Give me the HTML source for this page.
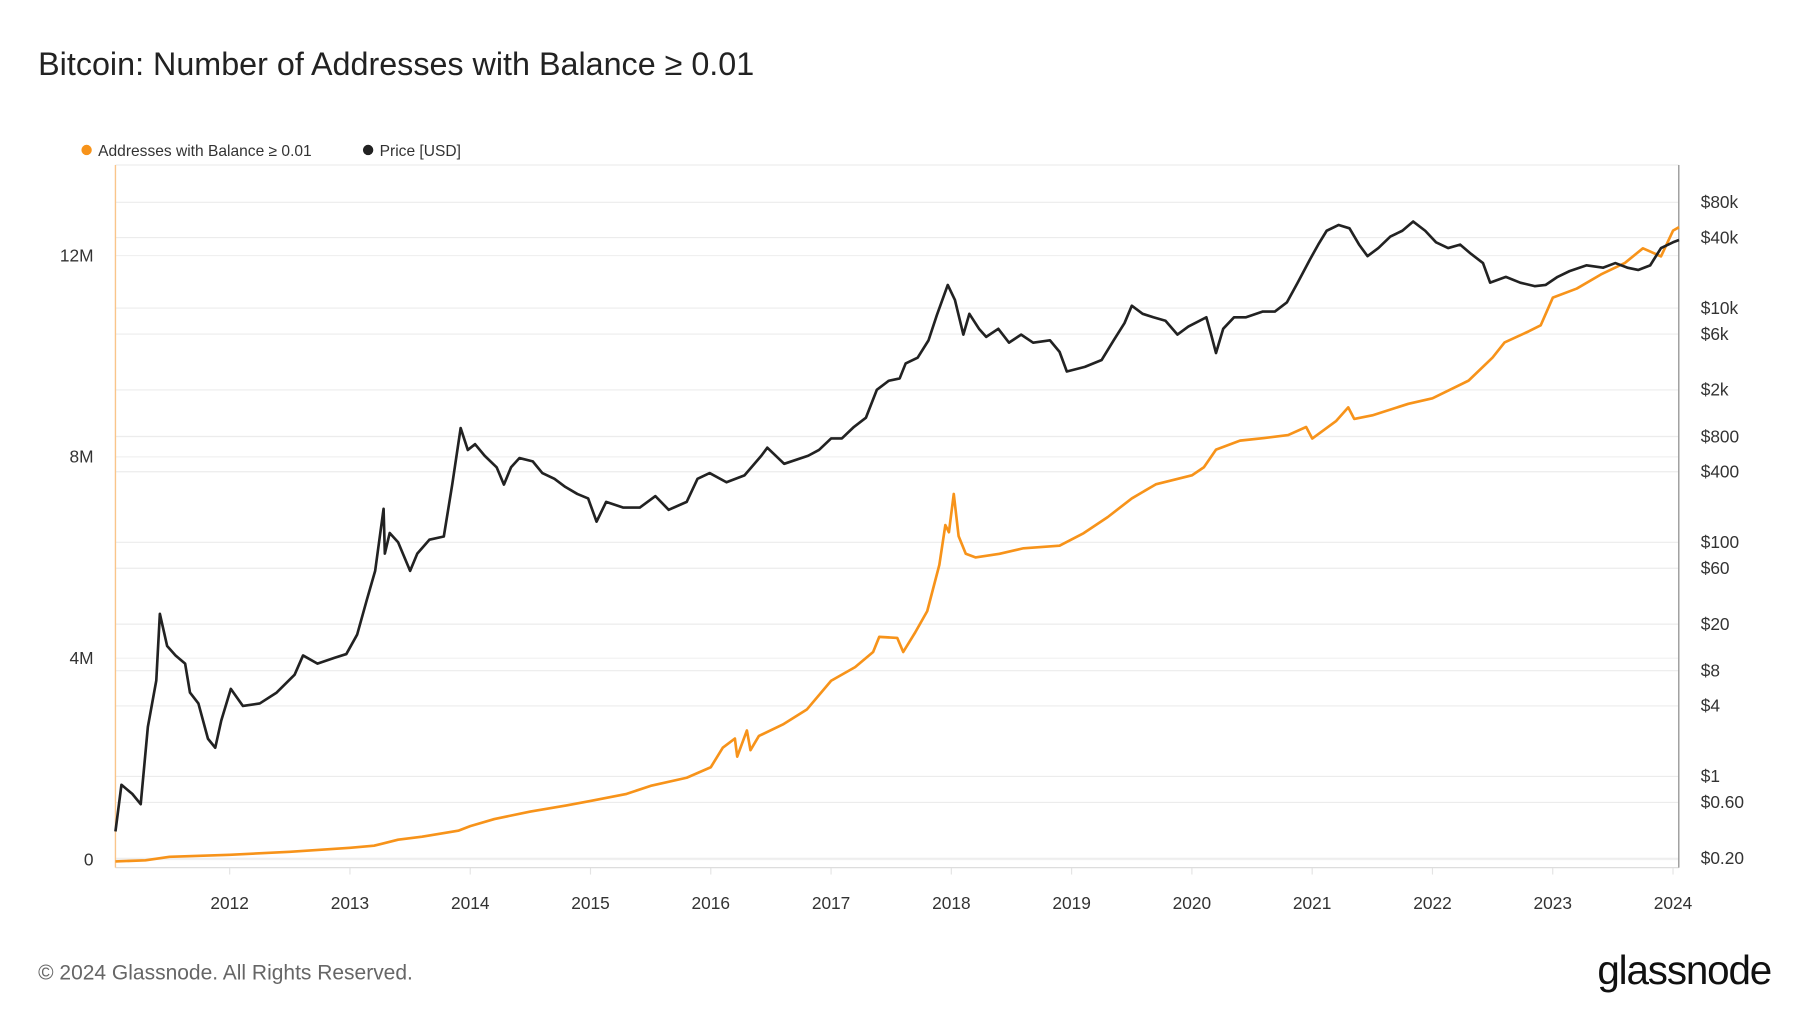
<!DOCTYPE html>
<html><head><meta charset="utf-8"><style>
html,body{margin:0;padding:0;background:#fff;}
svg{display:block;font-family:"Liberation Sans",sans-serif;}
</style></head><body>
<svg id="chart" width="1800" height="1013" viewBox="0 0 1560 878" xmlns="http://www.w3.org/2000/svg">
<rect width="1560" height="878" fill="#fff"/>
<text x="33" y="65" font-size="28" fill="#222">Bitcoin: Number of Addresses with Balance ≥ 0.01</text>
<g>
<g><circle cx="75" cy="130" r="4.5" fill="#f7931a"/><text x="85" y="135" font-size="13.5" fill="#333">Addresses with Balance ≥ 0.01</text></g>
<g><circle cx="319" cy="130" r="4.5" fill="#222"/><text x="329" y="135" font-size="13.5" fill="#333">Price [USD]</text></g>
</g>
<g id="grid"></g>
<g id="axes"></g>
<g id="series"></g>
<text x="33" y="849" font-size="18.2" fill="#666">© 2024 Glassnode. All Rights Reserved.</text>
<text x="1535" y="853" text-anchor="end" font-size="35" fill="#111" letter-spacing="-1">glassnode</text>
</svg>
<script>
const xTickYears=[2012,2013,2014,2015,2016,2017,2018,2019,2020,2021,2022,2023,2024];
const leftTicks=[0,4e6,8e6,12e6];
const leftTickLabels=["0","4M","8M","12M"];
const rightTicks=[80000,40000,10000,6000,2000,800,400,100,60,20,8,4,1,0.6,0.2];
const rightTickLabels=["$80k","$40k","$10k","$6k","$2k","$800","$400","$100","$60","$20","$8","$4","$1","$0.60","$0.20"];

const addrDates=[2011.05,2011.3,2011.5,2012.0,2012.5,2013.0,2013.2,2013.4,2013.6,2013.9,2014.0,2014.2,2014.5,2014.8,2015.0,2015.3,2015.5,2015.8,2016.0,2016.1,2016.2,2016.22,2016.3,2016.33,2016.4,2016.6,2016.8,2017.0,2017.2,2017.35,2017.4,2017.55,2017.6,2017.7,2017.8,2017.9,2017.95,2017.98,2018.02,2018.06,2018.12,2018.2,2018.4,2018.6,2018.9,2019.1,2019.3,2019.5,2019.7,2020.0,2020.1,2020.2,2020.4,2020.6,2020.8,2020.95,2021.0,2021.2,2021.3,2021.35,2021.5,2021.8,2022.0,2022.3,2022.5,2022.6,2022.8,2022.9,2023.0,2023.2,2023.4,2023.6,2023.75,2023.9,2024.0,2024.05];
const addrValues=[0.01e6,0.03e6,0.1e6,0.14e6,0.2e6,0.28e6,0.32e6,0.44e6,0.5e6,0.62e6,0.71e6,0.85e6,1.0e6,1.12e6,1.21e6,1.35e6,1.51e6,1.67e6,1.88e6,2.27e6,2.45e6,2.09e6,2.61e6,2.22e6,2.5e6,2.73e6,3.03e6,3.6e6,3.87e6,4.17e6,4.47e6,4.45e6,4.17e6,4.56e6,4.98e6,5.9e6,6.69e6,6.55e6,7.31e6,6.47e6,6.12e6,6.05e6,6.12e6,6.23e6,6.28e6,6.53e6,6.85e6,7.22e6,7.5e6,7.68e6,7.84e6,8.19e6,8.37e6,8.42e6,8.48e6,8.64e6,8.41e6,8.76e6,9.03e6,8.8e6,8.87e6,9.1e6,9.21e6,9.56e6,10.02e6,10.32e6,10.54e6,10.66e6,11.21e6,11.39e6,11.67e6,11.9e6,12.19e6,12.03e6,12.54e6,12.61e6];

const priceDates=[2011.05,2011.10,2011.19,2011.26,2011.32,2011.39,2011.42,2011.48,2011.55,2011.63,2011.67,2011.74,2011.82,2011.88,2011.93,2012.01,2012.11,2012.25,2012.39,2012.54,2012.61,2012.73,2012.87,2012.97,2013.06,2013.14,2013.21,2013.28,2013.29,2013.33,2013.40,2013.50,2013.56,2013.66,2013.78,2013.85,2013.92,2013.98,2014.04,2014.12,2014.22,2014.28,2014.34,2014.41,2014.52,2014.60,2014.70,2014.79,2014.89,2014.98,2015.05,2015.13,2015.27,2015.41,2015.54,2015.65,2015.80,2015.89,2015.99,2016.13,2016.28,2016.42,2016.47,2016.61,2016.81,2016.90,2017.00,2017.09,2017.19,2017.29,2017.38,2017.48,2017.57,2017.62,2017.72,2017.81,2017.88,2017.97,2018.03,2018.10,2018.15,2018.23,2018.29,2018.39,2018.48,2018.58,2018.68,2018.82,2018.90,2018.96,2019.11,2019.25,2019.35,2019.44,2019.50,2019.59,2019.68,2019.78,2019.88,2019.97,2020.12,2020.16,2020.20,2020.26,2020.35,2020.45,2020.59,2020.69,2020.79,2020.88,2020.98,2021.05,2021.12,2021.22,2021.31,2021.39,2021.46,2021.55,2021.65,2021.75,2021.84,2021.94,2022.03,2022.13,2022.23,2022.32,2022.42,2022.48,2022.61,2022.73,2022.85,2022.94,2023.04,2023.14,2023.28,2023.42,2023.52,2023.62,2023.71,2023.81,2023.90,2024.00,2024.05];
const priceValues=[0.34,0.85,0.71,0.58,2.65,6.6,24.5,13,10.8,9.2,5.2,4.2,2.1,1.76,3.0,5.6,4.0,4.2,5.2,7.4,10.8,9.2,10.3,11.1,16.3,32,57,193,80,120,100,57,80,105,112,311,945,614,688,548,437,311,437,524,490,390,348,297,259,237,150,221,198,198,248,189,221,348,390,325,373,548,643,468,548,614,771,771,967,1159,2000,2395,2506,3365,3770,5300,8730,15740,11720,5930,8930,6650,5670,6650,5060,5930,5060,5300,4225,2870,3145,3600,5300,7450,10470,8930,8340,7800,5930,6950,8340,5930,4130,6650,8340,8340,9340,9340,11200,16480,25900,34800,45700,51200,47900,34800,27740,32540,40800,45700,54800,45700,36460,32540,34800,29040,24220,16480,18450,16480,15390,15740,18450,20660,23170,22130,24220,22130,21140,23170,32540,36460,38120];

const X0=100,X1=1455,Y0=143,Y1=752;
function xScale(d){return 199+(d-2012)*104.25;}
function yLeft(v){return 747-v/4e6*174.5;}
function yRight(p){return 673-101.5*Math.log10(p);}
const NS="http://www.w3.org/2000/svg";
function mk(tag,attrs,parent){const e=document.createElementNS(NS,tag);for(const k in attrs)e.setAttribute(k,attrs[k]);parent.appendChild(e);return e;}
const gridG=document.getElementById('grid'),axesG=document.getElementById('axes'),seriesG=document.getElementById('series');

rightTicks.forEach((t,i)=>{
  const y=yRight(t);
  const l=mk('line',{x1:X0,x2:X1,y1:y,y2:y,stroke:'#ececec','stroke-width':1},gridG);
  
  
  const tx=mk('text',{x:1474,y:y+5,'font-size':15,fill:'#333'},axesG);
  tx.textContent=rightTickLabels[i];
  
  
});
leftTicks.forEach((t,i)=>{
  const y=yLeft(t);
  const l=mk('line',{x1:X0,x2:X1,y1:y-2,y2:y-2,stroke:'#f0f0f0','stroke-width':1},gridG);
  
  
  const tx=mk('text',{x:81,y:y+3,'font-size':15,fill:'#333','text-anchor':'end'},axesG);
  tx.textContent=leftTickLabels[i];
  
  
});
xTickYears.forEach(yr=>{
  const x=xScale(yr);
  const tk=mk('line',{x1:x,x2:x,y1:Y1,y2:Y1+6,stroke:'#e4e4e4','stroke-width':1},axesG);
  
  
  const tx=mk('text',{x:x,y:788,'font-size':15,fill:'#333','text-anchor':'middle'},axesG);
  tx.textContent=String(yr);
  
  
});
const topBorder=mk('line',{x1:X0,x2:X1,y1:Y0,y2:Y0,stroke:'#eee','stroke-width':1},axesG);


const bottomAxis=mk('line',{x1:X0,x2:X1,y1:Y1,y2:Y1,stroke:'#ddd','stroke-width':1},axesG);


const leftAxis=mk('line',{x1:X0,x2:X0,y1:Y0,y2:Y1,stroke:'#f9c58a','stroke-width':1.2},axesG);


const rightAxis=mk('line',{x1:X1,x2:X1,y1:Y0,y2:Y1,stroke:'#999','stroke-width':1.2},axesG);



const addrPts=addrDates.map((d,i)=>xScale(d).toFixed(1)+','+yLeft(addrValues[i]).toFixed(1)).join(' ');
const addrLine=mk('polyline',{points:addrPts,fill:'none',stroke:'#f7931a','stroke-width':2.3,'stroke-linejoin':'round'},seriesG);


const pricePts=priceDates.map((d,i)=>xScale(d).toFixed(1)+','+yRight(priceValues[i]).toFixed(1)).join(' ');
const priceLine=mk('polyline',{points:pricePts,fill:'none',stroke:'#222','stroke-width':2.3,'stroke-linejoin':'round'},seriesG);


</script>
</body></html>
